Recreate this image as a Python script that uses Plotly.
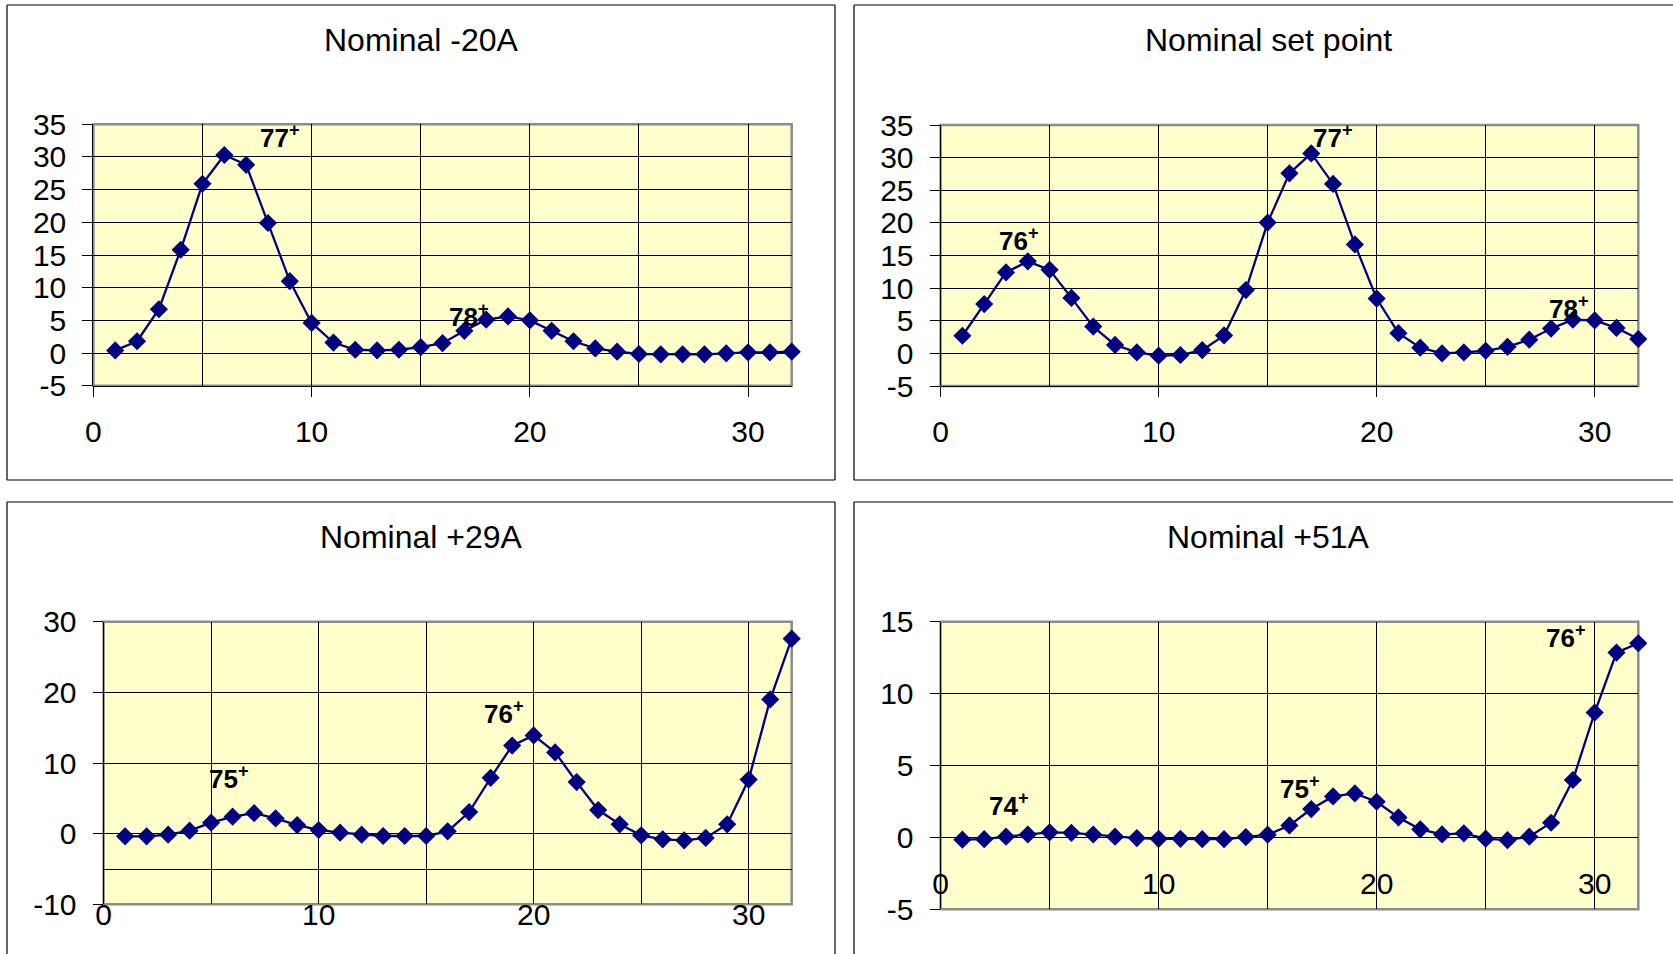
import plotly.graph_objects as go

W, H = 1673, 954

# Station number along the scan
station = list(range(1, 33))

# Measured response at each station for the four current settings
minus20 = [0.4, 1.8, 6.7, 15.8, 25.9, 30.3, 28.8, 19.9, 11.0, 4.6, 1.6, 0.5, 0.4, 0.5, 0.9, 1.5,
           3.4, 5.1, 5.6, 5.0, 3.4, 1.8, 0.7, 0.2, -0.15, -0.2, -0.2, -0.2, -0.05, 0.1, 0.1, 0.2]
setpoint = [2.7, 7.55, 12.4, 14.1, 12.8, 8.5, 4.1, 1.3, 0.15, -0.35, -0.25, 0.5, 2.75, 9.7, 20.05, 27.6,
            30.65, 25.97, 16.7, 8.4, 3.1, 0.87, 0.0, 0.15, 0.4, 1.0, 2.1, 3.8, 5.15, 5.05, 3.9, 2.2]
plus29 = [-0.38, -0.38, -0.14, 0.42, 1.55, 2.4, 2.9, 2.16, 1.22, 0.52, 0.14, -0.14, -0.33, -0.33, -0.33, 0.33,
          3.06, 7.9, 12.46, 13.9, 11.5, 7.3, 3.34, 1.32, -0.24, -0.8, -0.94, -0.61, 1.32, 7.66, 19.0, 27.6]
plus51 = [-0.16, -0.12, 0.05, 0.2, 0.35, 0.32, 0.2, 0.05, -0.05, -0.1, -0.1, -0.12, -0.12, 0.02, 0.19, 0.83,
          1.97, 2.85, 3.06, 2.48, 1.39, 0.56, 0.21, 0.28, -0.09, -0.19, 0.05, 1.02, 3.99, 8.68, 12.85, 13.5]

titles = ["Nominal -20A", "Nominal set point", "Nominal +29A", "Nominal +51A"]

# Charge-state labels: (text, x, y)
labels_minus20 = [("77", 8.55, 33.1), ("78", 17.2, 5.7)]
labels_setpoint = [("76", 3.6, 17.5), ("77", 18.0, 33.3), ("78", 28.8, 7.1)]
labels_plus29 = [("75", 5.85, 7.9), ("76", 18.6, 17.1), ("77", 31.4, 33.8)]
labels_plus51 = [("74", 3.14, 2.3), ("75", 16.5, 3.5), ("76", 28.7, 14.0)]

x_ticks = [0, 10, 20, 30]
y_ticks_35 = [-5, 0, 5, 10, 15, 20, 25, 30, 35]
y_ticks_30 = [-10, 0, 10, 20, 30]
y_ticks_15 = [-5, 0, 5, 10, 15]

# Layout of each panel in pixels: plot area (left, top, right, bottom),
# frame box (left, top, right, bottom) and which frame sides fall inside the page
panels = [
    dict(values=minus20, labels=labels_minus20, yrange=[-5, 35], yticks=y_ticks_35, xcross=-5,
         plot=(93.4, 124.3, 791.7, 385.7), box=(7, 5, 835, 480), sides="ltrb", title_y=40),
    dict(values=setpoint, labels=labels_setpoint, yrange=[-5, 35], yticks=y_ticks_35, xcross=-5,
         plot=(940.6, 125.0, 1638.3, 386.0), box=(854, 5, 1682, 480), sides="ltb", title_y=40),
    dict(values=plus29, labels=labels_plus29, yrange=[-10, 30], yticks=y_ticks_30, xcross=-5,
         plot=(103.6, 621.7, 791.7, 904.3), box=(7, 502, 835, 980), sides="ltr", title_y=537),
    dict(values=plus51, labels=labels_plus51, yrange=[-5, 15], yticks=y_ticks_15, xcross=0,
         plot=(940.6, 621.7, 1638.3, 909.3), box=(854, 502, 1682, 980), sides="lt", title_y=537),
]

FONT = "Liberation Sans, Arial, sans-serif"
NAVY = "#000080"
AREA = "#FFFFCC"


def fx(v):
    return min(max(v / W, 0.0), 1.0)


def fy(v):
    return min(max(1 - v / H, 0.0), 1.0)


def frame_lines(box, sides):
    bl, bt, br, bb = box
    segs = {
        "l": (bl, bt, bl, bb),
        "t": (bl, bt, br, bt),
        "r": (br, bt, br, bb),
        "b": (bl, bb, br, bb),
    }
    out = []
    for s in sides:
        x0, y0, x1, y1 = segs[s]
        out.append(dict(type="line", xref="paper", yref="paper", layer="above",
                        x0=fx(x0), y0=fy(y0), x1=fx(x1), y1=fy(y1),
                        line=dict(color="black", width=1.2)))
    return out


fig = go.Figure()
shapes = []
annotations = []
layout_axes = {}

for i, (p, title) in enumerate(zip(panels, titles), start=1):
    sfx = "" if i == 1 else str(i)
    xa, ya = "x" + sfx, "y" + sfx
    l, t, r, b = p["plot"]
    xdom = [fx(l), fx(r)]
    ydom = [fy(b), fy(t)]
    y0, y1 = p["yrange"]
    cross = ydom[0] + (p["xcross"] - y0) / (y1 - y0) * (ydom[1] - ydom[0])

    fig.add_trace(go.Scatter(
        x=station, y=p["values"], xaxis=xa, yaxis=ya, mode="lines+markers",
        line=dict(color=NAVY, width=2.3),
        marker=dict(symbol="diamond", size=14, color=NAVY),
        cliponaxis=False, showlegend=False,
    ))

    layout_axes["xaxis" + sfx] = dict(
        domain=xdom, range=[0, 32], anchor="free", position=cross,
        tickmode="array", tickvals=x_ticks, ticktext=[str(v) for v in x_ticks],
        ticks="outside", ticklen=10, tickcolor="black", tickwidth=1,
        ticklabelstandoff=9, automargin=False,
        showline=True, linecolor="black", linewidth=1.2,
        showgrid=True, gridcolor="black", gridwidth=1,
        minor=dict(tick0=0, dtick=5, showgrid=True, gridcolor="black", gridwidth=1, ticks=""),
        zeroline=False,
        tickfont=dict(family=FONT, size=30, color="black"),
    )
    layout_axes["yaxis" + sfx] = dict(
        domain=ydom, range=p["yrange"], anchor=xa,
        tickmode="array", tickvals=p["yticks"], ticktext=[str(v) for v in p["yticks"]],
        ticks="outside", ticklen=10, tickcolor="black", tickwidth=1,
        ticklabelstandoff=10, automargin=False,
        showline=True, linecolor="black", linewidth=1.2,
        showgrid=True, gridcolor="black", gridwidth=1,
        zeroline=False,
        tickfont=dict(family=FONT, size=30, color="black"),
    )

    # grey frame of the plot area
    shapes.append(dict(type="rect", xref="paper", yref="paper",
                       x0=xdom[0], x1=xdom[1], y0=ydom[0], y1=ydom[1], layer="below",
                       line=dict(color="#8C8C8C", width=2.5)))
    # panel frame
    shapes.extend(frame_lines(p["box"], p["sides"]))

    bl, bt, br, bb = p["box"]
    annotations.append(dict(text=title, xref="paper", yref="paper",
                            x=(bl + br) / 2 / W, y=1 - p["title_y"] / H,
                            xanchor="center", yanchor="middle", showarrow=False,
                            font=dict(family=FONT, size=32, color="black")))
    for txt, lx, ly in p["labels"]:
        annotations.append(dict(text="<b>" + txt + "<sup>+</sup></b>", xref=xa, yref=ya,
                                x=lx, y=ly, xanchor="center", yanchor="middle",
                                showarrow=False,
                                font=dict(family=FONT, size=26, color="black")))

fig.update_layout(
    width=W, height=H,
    margin=dict(l=0, r=0, t=0, b=0, pad=0, autoexpand=False),
    paper_bgcolor="white", plot_bgcolor=AREA,
    shapes=shapes, annotations=annotations,
    **layout_axes,
)

fig.write_html("out.html")
